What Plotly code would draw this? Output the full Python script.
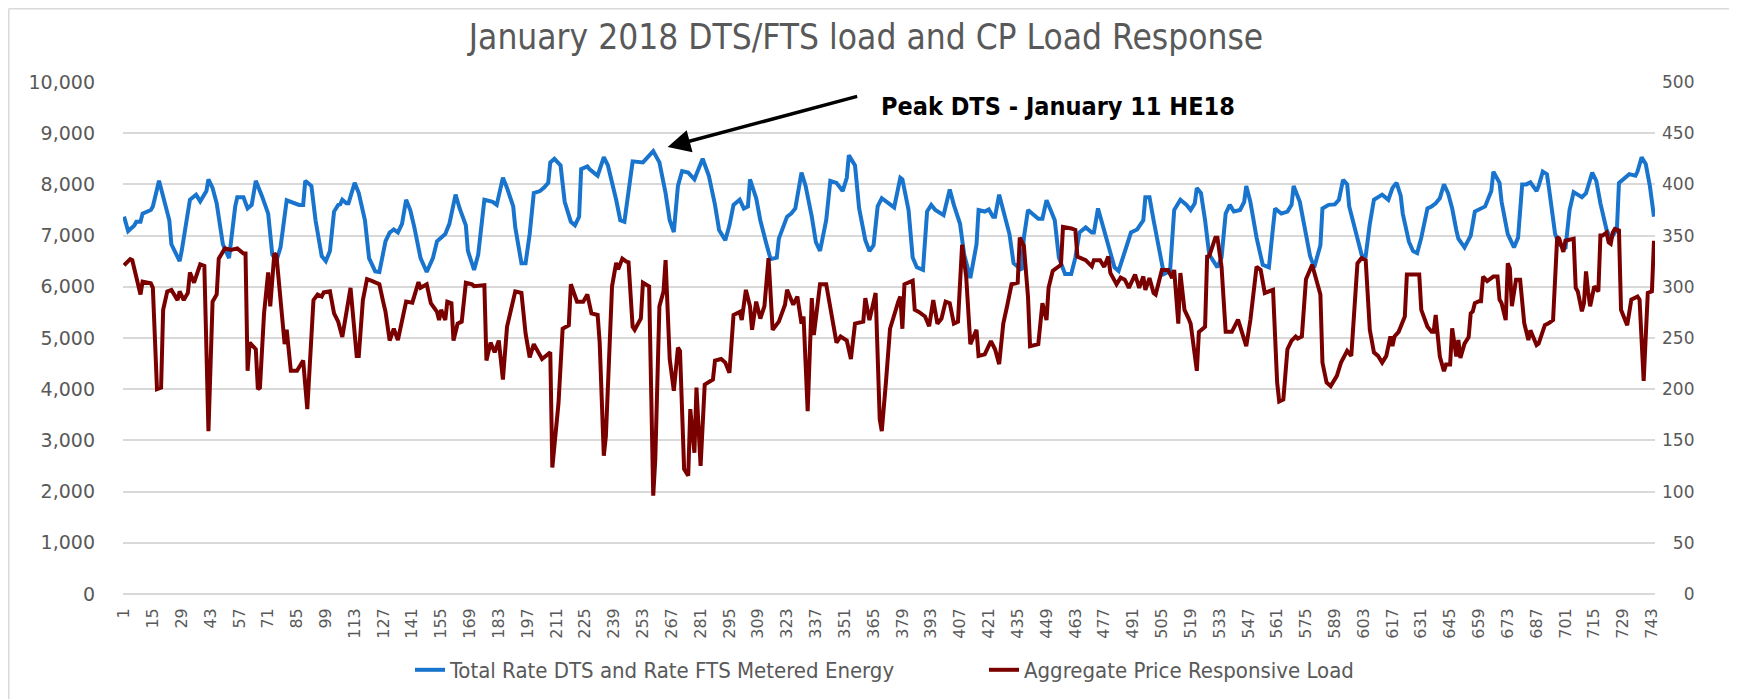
import plotly.graph_objects as go

# ---------------- data ----------------
TITLE = "January 2018 DTS/FTS load and CP Load Response"
SERIES_DTS = "Total Rate DTS and Rate FTS Metered Energy"
SERIES_PRL = "Aggregate Price Responsive Load"

# Hour of month (1..744) at the turning points of the blue line, and values (left axis)
DTS_HOURS = [1, 3, 6, 7, 9, 10, 14, 15, 18, 20, 23, 24, 28, 29, 33, 36, 38, 41, 42, 44,
             46, 49, 52, 55, 56, 59, 61, 63, 65, 68, 71, 73, 75, 77, 79, 80, 86, 88, 89, 92,
             94, 97, 99, 101, 103, 105, 106, 107, 109, 110, 113, 115, 118, 120, 123, 125, 128, 130, 132, 134,
             136, 138, 140, 142, 145, 148, 151, 153, 157, 159, 162, 164, 167, 168, 171, 173, 176, 178, 180, 182,
             185, 187, 190, 191, 194, 196, 198, 200, 203, 205, 207, 208, 210, 213, 215, 218, 220, 222, 223, 226,
             227, 230, 231, 234, 236, 240, 242, 244, 248, 253, 255, 258, 261, 264, 266, 268, 270, 272, 275, 278,
             280, 282, 285, 288, 290, 293, 295, 297, 300, 302, 304, 305, 308, 310, 313, 315, 318, 319, 323, 325,
             327, 330, 332, 335, 337, 339, 342, 344, 347, 350, 352, 353, 356, 358, 361, 363, 365, 367, 369, 372,
             375, 378, 379, 382, 384, 386, 389, 391, 393, 395, 399, 400, 402, 404, 407, 409, 412, 415, 416, 419,
             421, 423, 424, 426, 428, 431, 433, 437, 438, 440, 442, 445, 447, 449, 451, 453, 455, 458, 461, 463,
             465, 468, 471, 472, 474, 476, 479, 482, 484, 488, 490, 493, 496, 497, 499, 501, 504, 506, 509, 511,
             514, 517, 519, 521, 522, 524, 526, 528, 532, 534, 536, 538, 540, 543, 545, 546, 548, 551, 554, 557,
             559, 560, 563, 566, 568, 569, 572, 574, 577, 579, 582, 583, 586, 589, 591, 593, 595, 596, 599, 602,
             604, 606, 608, 612, 615, 617, 619, 621, 622, 625, 627, 629, 631, 634, 636, 638, 640, 642, 644, 646,
             648, 649, 652, 655, 657, 660, 662, 665, 666, 669, 670, 673, 676, 678, 680, 682, 684, 687, 688, 690,
             692, 693, 696, 698, 701, 703, 705, 709, 711, 714, 716, 718, 721, 723, 726, 727, 730, 732, 735, 736,
             738, 740, 742, 744]
DTS_VALUES = [7370, 7090, 7200, 7270, 7270, 7430, 7500, 7570, 8070, 7770, 7300, 6830, 6500, 6700, 7700, 7800, 7670, 7870, 8100, 7930,
              7630, 6830, 6560, 7570, 7750, 7750, 7530, 7600, 8070, 7770, 7430, 6630, 6510, 6770, 7500, 7690, 7600, 7600, 8070, 7970,
              7300, 6600, 6500, 6700, 7470, 7600, 7610, 7700, 7630, 7630, 8030, 7830, 7300, 6560, 6300, 6290, 6890, 7060, 7120, 7060,
              7230, 7700, 7500, 7160, 6560, 6290, 6560, 6890, 7030, 7230, 7800, 7530, 7200, 6700, 6330, 6630, 7700, 7680, 7660, 7600,
              8130, 7930, 7570, 7160, 6460, 6460, 7030, 7830, 7870, 7940, 8030, 8430, 8500, 8370, 7660, 7270, 7200, 7370, 8300, 8350,
              8300, 8200, 8170, 8530, 8370, 7700, 7300, 7270, 8450, 8430, 8510, 8650, 8430, 7830, 7300, 7070, 7970, 8260, 8230, 8100,
              8300, 8500, 8170, 7600, 7110, 6910, 7200, 7600, 7700, 7530, 7570, 8100, 7730, 7300, 6830, 6540, 6570, 6940, 7370, 7430,
              7530, 8230, 7970, 7370, 6870, 6700, 7300, 8070, 8030, 7870, 8130, 8570, 8370, 7530, 6910, 6700, 6810, 7570, 7730, 7630,
              7550, 8130, 8100, 7500, 6570, 6380, 6330, 7470, 7600, 7500, 7400, 7570, 7900, 7600, 7230, 6630, 6170, 6830, 7500, 7470,
              7510, 7370, 7370, 7800, 7500, 7030, 6460, 6330, 6960, 7500, 7430, 7330, 7330, 7690, 7500, 7300, 6570, 6250, 6250, 6570,
              7060, 7160, 7060, 7060, 7530, 7230, 6830, 6380, 6310, 6830, 7060, 7120, 7300, 7750, 7750, 7300, 6630, 6250, 6310, 7500,
              7700, 7600, 7500, 7630, 7930, 7830, 7300, 6630, 6380, 6570, 7430, 7600, 7470, 7500, 7660, 7970, 7660, 6960, 6430, 6380,
              7160, 7530, 7430, 7470, 7600, 7970, 7660, 7230, 6600, 6380, 6810, 7530, 7600, 7610, 7700, 8090, 8000, 7570, 7060, 6630,
              6600, 7230, 7700, 7800, 7700, 7930, 8030, 7780, 7430, 6880, 6700, 6660, 6960, 7530, 7570, 7630, 7730, 8000, 7830, 7530,
              7110, 6940, 6770, 7000, 7470, 7530, 7570, 7870, 8250, 8030, 7660, 7030, 6770, 6960, 8000, 8000, 8040, 7870, 7970, 8250,
              8200, 7930, 7030, 6830, 6740, 7500, 7850, 7750, 7830, 8230, 8070, 7630, 7110, 6940, 7120, 8030, 8130, 8200, 8170, 8250,
              8530, 8400, 7970, 7370]

# Hour of month at the turning points of the dark red line, and values (right axis)
PRL_HOURS = [1, 4, 5, 7, 9, 10, 14, 15, 17, 19, 20, 22, 24, 27, 28, 30, 32, 33, 35, 38,
             40, 42, 44, 46, 47, 50, 53, 56, 59, 60, 61, 62, 65, 66, 67, 69, 71, 72, 74, 75,
             79, 80, 82, 85, 88, 90, 93, 95, 97, 98, 101, 103, 105, 107, 111, 114, 115, 117, 119, 121,
             125, 127, 128, 130, 132, 134, 136, 138, 141, 144, 145, 148, 150, 153, 154, 155, 157, 158, 160, 161,
             163, 165, 167, 170, 171, 176, 177, 179, 181, 183, 185, 187, 191, 194, 196, 198, 200, 204, 208, 209,
             212, 214, 217, 218, 221, 224, 226, 228, 231, 232, 234, 235, 238, 240, 241, 243, 245, 246, 248, 249,
             252, 253, 256, 258, 259, 261, 263, 264, 266, 268, 270, 271, 273, 275, 276, 278, 279, 281, 283, 285,
             287, 288, 291, 293, 295, 297, 300, 301, 303, 305, 306, 308, 310, 312, 314, 316, 319, 322, 323, 326,
             328, 330, 331, 333, 335, 336, 339, 342, 344, 347, 349, 352, 354, 356, 360, 361, 363, 366, 368, 369,
             371, 373, 377, 378, 379, 380, 384, 385, 387, 390, 392, 394, 396, 398, 400, 402, 404, 406, 408, 410,
             412, 415, 416, 419, 422, 424, 426, 428, 430, 432, 435, 436, 438, 440, 441, 445, 447, 449, 450, 452,
             456, 457, 461, 463, 464, 468, 471, 472, 475, 477, 479, 480, 483, 485, 487, 489, 492, 494, 496, 497,
             499, 501, 502, 505, 508, 510, 511, 513, 514, 516, 518, 519, 522, 523, 526, 527, 528, 531, 532, 534,
             536, 539, 542, 544, 546, 548, 551, 553, 555, 559, 561, 562, 564, 566, 568, 570, 571, 573, 575, 578,
             580, 582, 583, 585, 587, 590, 592, 595, 597, 600, 602, 604, 606, 608, 610, 612, 614, 616, 617, 618,
             620, 621, 623, 624, 630, 631, 634, 636, 637, 638, 639, 640, 642, 643, 645, 646, 648, 649, 650, 652,
             654, 655, 656, 657, 659, 660, 661, 663, 666, 668, 669, 670, 672, 673, 674, 675, 677, 679, 681, 683,
             684, 687, 688, 691, 693, 695, 697, 698, 700, 701, 705, 706, 707, 709, 710, 711, 712, 713, 715, 717,
             718, 719, 721, 722, 723, 724, 725, 727, 728, 730, 731, 733, 736, 737, 739, 741, 743, 744]
PRL_VALUES = [321, 327, 326, 307.5, 292.5, 305, 303.5, 299, 200, 201.5, 277.5, 295.5, 297, 287, 295.5, 287, 294, 314, 304, 322,
              320.5, 159, 285.5, 292.5, 327.5, 337.5, 336, 337.5, 332.5, 332.5, 218, 245.5, 239, 200, 201.5, 274, 314, 281, 332.5, 331,
              244, 258, 218, 218, 228, 180.5, 287, 292.5, 290.5, 294.5, 295.5, 274, 266, 251, 299, 232.5, 232.5, 287, 307.5, 306,
              302.5, 284, 275.5, 247.5, 259, 248, 269, 285.5, 284.5, 304.5, 299, 302.5, 284, 275.5, 267.5, 277.5, 267.5, 285.5, 284, 247.5,
              264, 266, 304, 302.5, 300.5, 301.5, 228, 245.5, 236, 247.5, 209.5, 261, 295.5, 294, 254.5, 231, 244, 229.5, 236, 123.5,
              186.5, 259, 262.5, 302.5, 285.5, 285.5, 292.5, 274, 272.5, 245.5, 135, 154, 300.5, 323.5, 317, 327.5, 324.5, 324, 261, 258,
              269, 304, 300.5, 96, 131.5, 281, 295.5, 326, 229.5, 198.5, 240.5, 237.5, 122, 115.5, 180.5, 138, 201.5, 125, 204.5, 207.5,
              209.5, 228, 229.5, 226, 216, 272.5, 275.5, 267.5, 297, 281, 258, 285.5, 269, 281, 328, 258, 266, 282.5, 297, 282.5,
              290.5, 264, 271, 178.5, 289, 253, 302.5, 302.5, 277.5, 245.5, 251.5, 247.5, 229.5, 264, 266, 289, 267.5, 294, 170.5, 159,
              206.5, 259, 285.5, 290.5, 259, 302.5, 306, 277.5, 275.5, 271, 261.5, 287, 264, 269, 285.5, 284, 264, 266, 341, 309.5,
              244, 258, 232.5, 234, 247, 239, 224.5, 264, 282.5, 302.5, 304, 348, 340, 290.5, 242, 244, 284, 267.5, 299, 315.5,
              321.5, 358.5, 357, 355.5, 329.5, 326, 320, 326, 326, 319.5, 329.5, 313.5, 302.5, 309, 307, 299, 312, 299, 310, 297,
              308.5, 294, 292.5, 316.5, 316.5, 308.5, 316.5, 264, 313.5, 277.5, 269, 264, 218, 256, 261, 329.5, 330, 348, 348, 319.5,
              256, 256, 268, 256, 242, 267.5, 319.5, 316.5, 294, 297, 206.5, 188, 190, 239, 247.5, 251.5, 249.5, 251.5, 307.5, 321.5,
              307.5, 292.5, 226, 206.5, 203, 213, 226, 237.5, 232.5, 323, 328, 326, 258, 236, 232.5, 226, 232.5, 251.5, 242, 251.5,
              256, 261, 271, 312, 312, 277.5, 261, 256, 256, 272.5, 248, 232, 217.5, 224, 224, 259.5, 232, 248, 230.5, 244.5,
              251, 274, 276, 284, 286, 286, 310, 305.5, 310, 310, 287.5, 284, 267.5, 323, 318, 281, 307, 307, 264.5, 248,
              257.5, 243, 244.5, 262.5, 264.5, 267.5, 348.5, 347, 334, 345, 347, 299, 295.5, 276, 284, 315, 295.5, 281, 300.5, 295.5,
              350, 350, 353, 343.5, 342, 353, 356.5, 355, 277.5, 266, 262.5, 287.5, 290.5, 287.5, 208, 294, 295.5, 345]

X_TICK_LABELS = [str(h) for h in range(1, 744, 14)]
LEFT_TICKS = [0, 1000, 2000, 3000, 4000, 5000, 6000, 7000, 8000, 9000, 10000]
RIGHT_TICKS = [0, 50, 100, 150, 200, 250, 300, 350, 400, 450, 500]

PEAK_TEXT = "Peak DTS - January 11 HE18"

# ---------------- styling ----------------
BLUE = "#1874CD"
DARK_RED = "#7A0000"
GREY_TEXT = "#595959"
GRID = "#d9d9d9"

# the page body adds an 8px offset, so the figure is drawn 8px smaller
OFF = 8
W, H = 1737 - OFF, 699 - OFF
ML, MT = 123 - OFF, 82 - OFF
PW, PH = 1532, 512
MR = W - ML - PW
MB = H - MT - PH


def px_x(px):   # page pixel -> paper x
    return (px - OFF - ML) / PW


def px_y(py):   # page pixel -> paper y
    return (MT + PH - (py - OFF)) / PH


fig = go.Figure()
fig.add_trace(go.Scatter(x=DTS_HOURS, y=DTS_VALUES, mode="lines", name=SERIES_DTS,
                         line=dict(color=BLUE, width=4), yaxis="y"))
fig.add_trace(go.Scatter(x=PRL_HOURS, y=PRL_VALUES, mode="lines", name=SERIES_PRL,
                         line=dict(color=DARK_RED, width=4), yaxis="y2"))

pad = "\u2007"
right_text = [pad * (3 - len(str(v))) + str(v) for v in RIGHT_TICKS]

fig.update_layout(
    width=W, height=H,
    margin=dict(l=ML, r=MR, t=MT, b=MB, autoexpand=False),
    paper_bgcolor="white", plot_bgcolor="white",
    title=dict(text=TITLE, x=px_x(866) * PW / W + ML / W, xanchor="center",
               y=1 - (37 - OFF) / H, yanchor="middle",
               font=dict(family="DejaVu Sans Condensed", size=35, color=GREY_TEXT)),
    xaxis=dict(range=[0.5, 744.5], tickmode="array",
               tickvals=[int(t) for t in X_TICK_LABELS], ticktext=X_TICK_LABELS,
               tickangle=-90, showgrid=False, zeroline=False, automargin=False,
               showline=False, ticks="",
               tickfont=dict(family="DejaVu Sans", size=16, color=GREY_TEXT),
               ticklabelstandoff=10),
    yaxis=dict(range=[0, 10000], tickmode="array", tickvals=LEFT_TICKS,
               tickformat=",d", showgrid=True, gridcolor=GRID, gridwidth=1.5,
               zeroline=True, zerolinecolor=GRID, zerolinewidth=1.5, ticks="",
               automargin=False,
               tickfont=dict(family="DejaVu Sans", size=19, color=GREY_TEXT),
               ticklabelstandoff=27),
    yaxis2=dict(range=[0, 500], overlaying="y", side="right", tickmode="array",
                tickvals=RIGHT_TICKS, ticktext=right_text, showgrid=False,
                zeroline=False, ticks="", automargin=False,
                tickfont=dict(family="DejaVu Sans", size=17, color=GREY_TEXT),
                ticklabelstandoff=6),
    legend=dict(orientation="h", x=px_x(402 + OFF), xanchor="left",
                y=px_y(670), yanchor="middle",
                font=dict(family="DejaVu Sans Condensed", size=22, color=GREY_TEXT),
                entrywidth=529, entrywidthmode="pixels", bgcolor="rgba(0,0,0,0)"),
    showlegend=True,
)

# peak arrow and label
fig.add_annotation(x=265, y=8730, xref="x", yref="y", text="", showarrow=True,
                   ax=191, ay=-51, arrowhead=2, arrowsize=1.3, arrowwidth=3.5,
                   arrowcolor="black")
fig.add_annotation(x=px_x(879), y=px_y(106), xref="paper", yref="paper",
                   text="<b>" + PEAK_TEXT + "</b>", showarrow=False, xanchor="left",
                   yanchor="middle",
                   font=dict(family="DejaVu Sans Condensed", size=25, color="black"))

# thin chart-area frame lines (left and top) as in the reference
left_x = px_x(OFF + 0.8)
top_y = px_y(OFF + 0.8)
fig.add_shape(type="line", xref="paper", yref="paper", x0=left_x, x1=left_x,
              y0=px_y(699), y1=top_y, line=dict(color=GRID, width=1.5))
fig.add_shape(type="line", xref="paper", yref="paper", x0=left_x, x1=px_x(1737),
              y0=top_y, y1=top_y, line=dict(color=GRID, width=1.5))

fig.write_html("out.html")
